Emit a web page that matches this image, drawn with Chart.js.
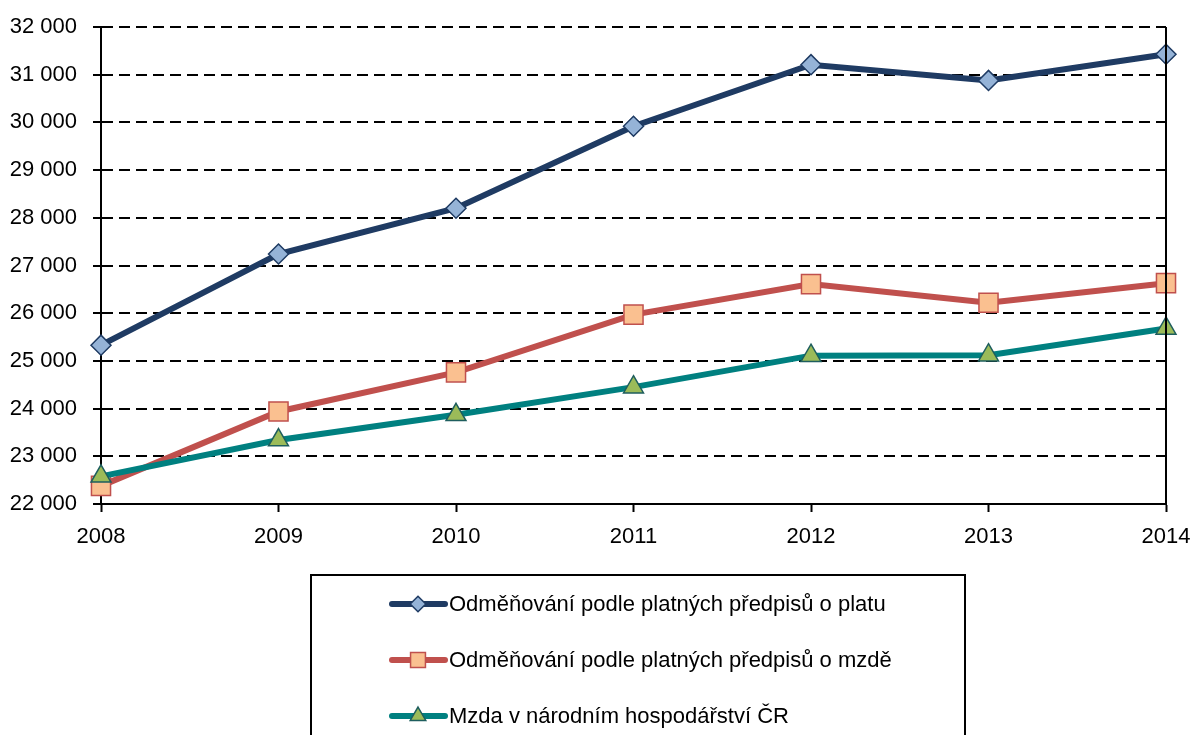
<!DOCTYPE html>
<html>
<head>
<meta charset="utf-8">
<script src="https://cdn.jsdelivr.net/npm/chart.js@4/dist/chart.umd.min.js"></script>
<style>
  body { margin: 0; background: #fff; }
</style>
</head>
<body>
<canvas id="wageChart" width="1193" height="735"></canvas>
<script>
// data
const years = ["2008", "2009", "2010", "2011", "2012", "2013", "2014"];
const platValues = [25330, 27240, 28200, 29920, 31210, 30880, 31430];
const mzdaValues = [22380, 23940, 24760, 25970, 26610, 26220, 26630];
const narodniValues = [22580, 23340, 23870, 24450, 25110, 25120, 25680];
const seriesLabels = [
  "Odměňování podle platných předpisů o platu",
  "Odměňování podle platných předpisů o mzdě",
  "Mzda v národním hospodářství ČR",
];

const FONT = "'Liberation Sans', Arial, sans-serif";

// mezery jako oddělovač tisíců
function formatThousands(v) {
  return String(v).replace(/\B(?=(\d{3})+(?!\d))/g, " ");
}

// pravý okraj grafu + rámeček legendy
const framePlugin = {
  id: "frame",
  afterDraw(chart) {
    const ctx = chart.ctx;
    const area = chart.chartArea;
    ctx.save();
    ctx.strokeStyle = "#000";
    ctx.lineWidth = 2;
    ctx.beginPath();
    ctx.moveTo(area.right, area.top);
    ctx.lineTo(area.right, area.bottom);
    ctx.stroke();

    // legenda
    ctx.strokeRect(311, 575, 654, 200);
    ctx.font = "22px " + FONT;
    ctx.textBaseline = "middle";
    chart.data.datasets.forEach((ds, i) => {
      const y = 604 + i * 56;
      ctx.strokeStyle = ds.borderColor;
      ctx.lineWidth = 6;
      ctx.lineCap = "round";
      ctx.beginPath();
      ctx.moveTo(392, y);
      ctx.lineTo(445, y);
      ctx.stroke();
      ctx.fillStyle = ds.pointBackgroundColor;
      ctx.strokeStyle = ds.pointBorderColor;
      ctx.lineWidth = ds.pointBorderWidth;
      Chart.helpers.drawPoint(ctx, {
        pointStyle: ds.pointStyle,
        radius: ds.pointRadius * 0.78,
        rotation: 0,
        borderWidth: ds.pointBorderWidth,
      }, 418, y);
      ctx.fillStyle = "#000";
      ctx.fillText(ds.label, 449, y + 1);
    });
    ctx.restore();
  },
};

new Chart(document.getElementById("wageChart"), {
  type: "line",
  data: {
    labels: years,
    datasets: [
      {
        label: seriesLabels[0],
        data: platValues,
        borderColor: "#1F3B63",
        borderWidth: 6,
        pointStyle: "rectRot",
        pointRadius: 10,
        pointBackgroundColor: "#95B3D7",
        pointBorderColor: "#1F3B63",
        pointBorderWidth: 1.5,
        tension: 0,
        order: 2,
      },
      {
        label: seriesLabels[1],
        data: mzdaValues,
        borderColor: "#C0504D",
        borderWidth: 6,
        pointStyle: "rect",
        pointRadius: 13.5,
        pointBackgroundColor: "#FAC090",
        pointBorderColor: "#C0504D",
        pointBorderWidth: 1.5,
        tension: 0,
        order: 1,
      },
      {
        label: seriesLabels[2],
        data: narodniValues,
        borderColor: "#008080",
        borderWidth: 6,
        pointStyle: "triangle",
        pointRadius: 11.5,
        pointBackgroundColor: "#9BBB59",
        pointBorderColor: "#1E5E5E",
        pointBorderWidth: 1.5,
        tension: 0,
        order: 0,
      },
    ],
  },
  options: {
    responsive: false,
    animation: false,
    layout: {
      padding: { top: 27, right: 27, left: 0, bottom: 0 },
    },
    plugins: {
      legend: { display: false },
      tooltip: { enabled: false },
    },
    scales: {
      x: {
        offset: false,
        afterFit(scale) {
          scale.height = 231;
          scale.paddingLeft = 0;
          scale.paddingRight = 0;
        },
        grid: {
          drawOnChartArea: false,
          drawTicks: true,
          tickLength: 8,
          tickColor: "#000",
          tickWidth: 2,
        },
        border: { color: "#000", width: 2 },
        ticks: {
          color: "#000",
          padding: 12,
          maxRotation: 0,
          font: { family: FONT, size: 22 },
        },
      },
      y: {
        min: 22000,
        max: 32000,
        afterFit(scale) {
          scale.width = 101;
          scale.paddingTop = 0;
          scale.paddingBottom = 0;
        },
        grid: {
          color: "#000",
          lineWidth: 2,
          tickLength: 8,
          tickColor: "#000",
          tickWidth: 2,
          tickBorderDash: [],
        },
        border: { color: "#000", width: 2, dash: [11, 6] },
        ticks: {
          stepSize: 1000,
          color: "#000",
          padding: 16,
          font: { family: FONT, size: 22 },
          callback: (v) => formatThousands(v),
        },
      },
    },
  },
  plugins: [framePlugin],
});
</script>
</body>
</html>
